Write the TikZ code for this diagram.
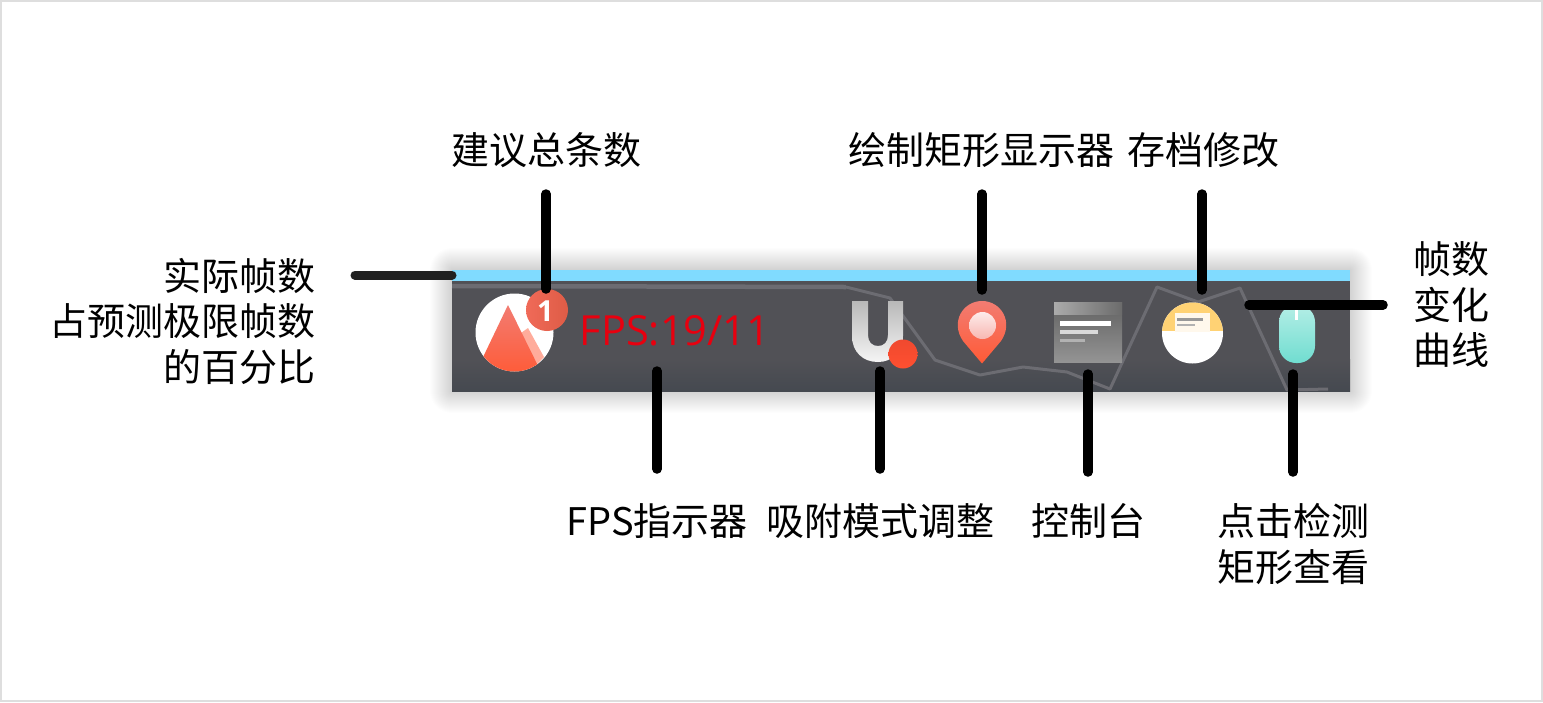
\documentclass[tikz,border=0pt]{standalone}
\usepackage{fontspec}
\setmainfont{Noto Sans CJK SC}
\newfontfamily\fpsfont{Open Sans}
\definecolor{barblue}{HTML}{80DBFF}
\definecolor{bardark}{HTML}{515156}
\definecolor{barlow}{HTML}{454950}
\definecolor{curve}{HTML}{6C6C72}
\definecolor{redA}{HTML}{F27C72}
\definecolor{redB}{HTML}{FF5A36}
\definecolor{dotA}{HTML}{F0492F}
\definecolor{dotB}{HTML}{FF5030}
\definecolor{badgeL}{HTML}{F06A58}
\definecolor{badgeR}{HTML}{DE5C46}
\definecolor{mintA}{HTML}{B4EEE6}
\definecolor{mintB}{HTML}{70DDD0}
\definecolor{envel}{HTML}{FFD274}
\definecolor{paper}{HTML}{FFF8EC}
\definecolor{fpsred}{HTML}{E8000F}
\tikzset{
  x=1pt,y=-1pt,
  lab/.style={inner sep=0pt,outer sep=0pt,font=\fontsize{38}{45.5}\selectfont,text=black},
  lead/.style={line width=9.5pt,line cap=round,draw=black},
  leadsoft/.style={line width=9pt,line cap=round,draw=black!87},
  trace/.style={draw=curve,line width=3pt,line join=round},
}
\begin{document}
\begin{tikzpicture}
\useasboundingbox (0,0) rectangle (1543,702);
\fill[white] (0,0) rectangle (1543,702);
\draw[black!13,line width=2pt] (1,1) rectangle (1542,701);
% soft shadow of the bar
\foreach \s in {1,...,22}{
  \fill[black,opacity=0.0095,rounded corners=\s pt] (452-\s,270-\s) rectangle (1350+\s,391+\s);
}
% bar
\fill[bardark] (452,281) rectangle (1350,360);
\shade[top color=bardark,bottom color=barlow] (452,359.5) rectangle (1350,391);
\fill[barblue] (452,270) rectangle (1350,281);
% fps curve
\draw[draw=curve,line width=4.5pt] (452,286) -- (846,287);
\draw[trace] (846,287) -- (890,298) -- (935,360) -- (980,375) -- (1023,367) -- (1067,372) -- (1110,389) -- (1157,287) -- (1198,302) -- (1240,288) -- (1287,390) -- (1328,389);
% analysis icon
\begin{scope}
  \clip (514.5,332.5) circle (39);
  \fill[white] (470,290) rectangle (560,376);
  \fill[white!50!redB] (528,328) -- (544,357) -- (535,366) -- (521,333) -- cycle;
  \shade[top color=redA,bottom color=redB] (508,305) -- (474,376) -- (543,376) -- cycle;
\end{scope}
\shade[left color=badgeL,right color=badgeR] (547,310) circle (21);
\node[inner sep=0pt,text=white,font=\fpsfont\bfseries\fontsize{29}{29}\selectfont] (badgeone) at (545.5,311) {1};
% fps text
\node[inner sep=0pt,text=fpsred,font=\fpsfont\fontsize{41.5}{41.5}\selectfont] (fpstext) at (675,331) {FPS:19/11};
% snap icon
\shade[top color=black!28,bottom color=black!4] (852,301) -- (868,301) -- (868,335) .. controls (868,342) and (872,346) .. (878,346) .. controls (884,346) and (888,342) .. (888,335) -- (888,301) -- (903,301) -- (903,336) .. controls (903,352) and (892,362) .. (878,362) .. controls (863,362) and (852,352) .. (852,336) -- cycle;
\shade[top color=dotA,bottom color=dotB] (903,354) circle (14.5);
% pin icon
\shade[top color=redA,bottom color=redB] (982,363.5) -- (963,341) .. controls (950,322) and (963,301) .. (982,301) .. controls (1001,301) and (1014,322) .. (1001,341) -- cycle;
\shade[top color=white!85!redA,bottom color=white!45!redA] (982.5,325.5) circle (13.5);
% console icon
\shade[shading angle=20,top color=black!62,bottom color=black!42] (1054,302) rectangle (1122,362);
\shade[left color=black!33,right color=black!58] (1054,302) rectangle (1122,314);
\fill[white] (1060,320.5) rectangle (1111,325.5);
\fill[black!15] (1060,329.5) rectangle (1098,334);
\fill[black!30] (1060,339) rectangle (1085,342);
% archive icon
\begin{scope}
  \clip (1192.5,333) circle (30.5);
  \fill[white] (1160,300) rectangle (1226,366);
  \fill[envel] (1160,300) rectangle (1226,331);
  \fill[paper] (1175,313) rectangle (1210,332);
\end{scope}
\fill[black!40] (1177,318) rectangle (1203,320.5);
\fill[black!30] (1177,323.5) rectangle (1195,325.5);
% mouse icon
\shade[rounded corners=17pt,top color=mintA,bottom color=mintB] (1279,305) rectangle (1315,363);
\fill[white] (1294.5,309) rectangle (1297.5,320);
% labels
\node[lab] (suggest) at (546,150) {建议总条数};
\node[lab] (drawrect) at (981.5,150) {绘制矩形显示器};
\node[lab] (archive) at (1203,150) {存档修改};
\node[lab,align=right,anchor=east] (ratio) at (315,321) {实际帧数\\占预测极限帧数\\的百分比};
\node[lab,align=center] (change) at (1451,305) {帧数\\变化\\曲线};
\node[lab] (fpsind) at (657,521) {FPS指示器};
\node[lab] (snap) at (880,521) {吸附模式调整};
\node[lab] (console) at (1088,521) {控制台};
\node[lab,align=center] (click) at (1293,544) {点击检测\\矩形查看};
% connector ends
\coordinate (suggestA) at (546,194);
\coordinate (suggestB) at (546,289);
\coordinate (drawA) at (982,194);
\coordinate (drawB) at (982,290);
\coordinate (archA) at (1202,194);
\coordinate (archB) at (1202,290);
\coordinate (ratioA) at (355,275);
\coordinate (ratioB) at (452,275);
\coordinate (changeA) at (1383,305);
\coordinate (changeB) at (1249,305);
\coordinate (fpsA) at (657,469);
\coordinate (fpsB) at (657,371);
\coordinate (snapA) at (880,469);
\coordinate (snapB) at (880,371);
\coordinate (consA) at (1088,472);
\coordinate (consB) at (1088,374);
\coordinate (clickA) at (1293,472);
\coordinate (clickB) at (1293,374);
\draw[lead] (suggestA) -- (suggestB);
\draw[lead] (drawA) -- (drawB);
\draw[lead] (archA) -- (archB);
\draw[leadsoft] (ratioA) -- (ratioB);
\draw[lead] (changeA) -- (changeB);
\draw[lead] (fpsA) -- (fpsB);
\draw[lead] (snapA) -- (snapB);
\draw[lead] (consA) -- (consB);
\draw[lead] (clickA) -- (clickB);
\end{tikzpicture}
\end{document}
